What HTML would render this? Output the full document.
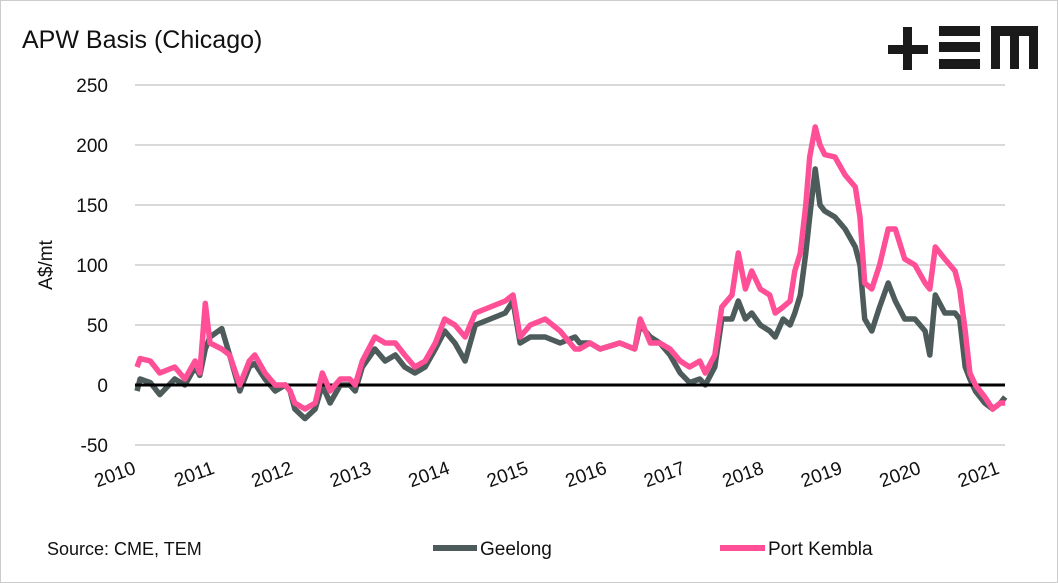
<!DOCTYPE html>
<html><head><meta charset="utf-8"><style>
body{margin:0;background:#fff;}
svg{font-family:"Liberation Sans",sans-serif;display:block}
</style></head><body>
<svg width="1058" height="583" viewBox="0 0 1058 583">
<rect x="0.5" y="0.5" width="1057" height="582" fill="#fff" stroke="#ccc"/>
<text x="22" y="48" font-size="25" fill="#111">APW Basis (Chicago)</text>
<g fill="#1a1a1a">
<rect x="888" y="45" width="40" height="9"/><rect x="903" y="27" width="9" height="43"/>
<rect x="939" y="26" width="41" height="10"/><rect x="939" y="42" width="41" height="10"/><rect x="939" y="59" width="41" height="10"/>
<path d="M991 26h47v43h-9v-33h-10v33h-9v-33h-10v33h-9z"/>
</g>
<g id="grid"></g>
<g id="yticks"></g>
<g id="xticks"></g>
<text transform="translate(52,265) rotate(-90)" text-anchor="middle" font-size="19" fill="#111">A$/mt</text>
<g id="series"></g>
<text x="47" y="555" font-size="18" fill="#111">Source: CME, TEM</text>
<g><line x1="433" y1="548" x2="477" y2="548" stroke="#4d5b5b" stroke-width="6"/><text x="480" y="555" font-size="19" fill="#111">Geelong</text></g>
<g><line x1="720" y1="548" x2="765" y2="548" stroke="#ff4f96" stroke-width="6"/><text x="768" y="555" font-size="19" fill="#111">Port Kembla</text></g>
</svg>
<script>
const dates=[2010.0,2010.04,2010.17,2010.29,2010.48,2010.61,2010.74,2010.80,2010.87,2010.93,2011.08,2011.18,2011.31,2011.43,2011.50,2011.63,2011.76,2011.89,2011.95,2012.01,2012.14,2012.27,2012.36,2012.46,2012.59,2012.71,2012.78,2012.87,2013.03,2013.16,2013.29,2013.41,2013.54,2013.67,2013.80,2013.92,2014.05,2014.18,2014.31,2014.50,2014.69,2014.79,2014.88,2015.01,2015.20,2015.39,2015.58,2015.64,2015.77,2015.90,2016.15,2016.34,2016.41,2016.54,2016.66,2016.79,2016.92,2017.04,2017.17,2017.24,2017.36,2017.45,2017.58,2017.66,2017.75,2017.83,2017.94,2018.06,2018.13,2018.23,2018.32,2018.38,2018.45,2018.52,2018.57,2018.64,2018.70,2018.76,2018.89,2019.02,2019.15,2019.21,2019.27,2019.36,2019.46,2019.57,2019.66,2019.78,2019.91,2020.04,2020.10,2020.17,2020.29,2020.42,2020.48,2020.55,2020.61,2020.68,2020.80,2020.90,2021.0,2021.06];
const geelong=[-5,5,2,-8,5,0,15,8,30,40,47,25,-5,15,18,5,-5,0,-5,-20,-28,-20,0,-15,0,0,-5,15,30,20,25,15,10,15,30,45,35,20,50,55,60,70,35,40,40,35,40,35,35,30,35,30,50,40,35,25,10,2,5,0,15,55,55,70,55,60,50,45,40,55,50,60,75,110,140,180,150,145,140,130,115,100,55,45,65,85,70,55,55,45,25,75,60,60,55,15,5,-5,-15,-20,-15,-10];
const portKembla=[15,22,20,10,15,5,20,10,68,35,30,25,0,20,25,10,0,0,-5,-15,-20,-15,10,-5,5,5,0,20,40,35,35,25,15,20,35,55,50,40,60,65,70,75,40,50,55,45,30,30,35,30,35,30,55,35,35,30,20,15,20,10,25,65,75,110,80,95,80,75,60,65,70,95,110,150,190,215,200,192,190,175,165,140,85,80,100,130,130,105,100,85,80,115,105,95,80,45,10,0,-10,-20,-15,-15];
const yTicks=[-50,0,50,100,150,200,250];
const yLabels=["-50","0","50","100","150","200","250"];
const xTicks=[2010,2011,2012,2013,2014,2015,2016,2017,2018,2019,2020,2021];
const xLabels=["2010","2011","2012","2013","2014","2015","2016","2017","2018","2019","2020","2021"];
const NS="http://www.w3.org/2000/svg";
const X0=137,XR=78.5,Y0=385,YK=1.2,L=135,R=1005;
const x=d=>X0+(d-2010)*XR, y=v=>Y0-v*YK;
const grid=document.getElementById('grid'),yt=document.getElementById('yticks'),xt=document.getElementById('xticks'),ser=document.getElementById('series');
yTicks.forEach((v,i)=>{
 if(v!==0){const l=document.createElementNS(NS,'line');
 
 
 l.setAttribute('x1',L);l.setAttribute('x2',R);l.setAttribute('y1',y(v));l.setAttribute('y2',y(v));l.setAttribute('stroke','#d9d9d9');l.setAttribute('stroke-width','2');grid.appendChild(l);}
 const t=document.createElementNS(NS,'text');
 
 
 t.setAttribute('x',108);t.setAttribute('y',y(v)+7);t.setAttribute('text-anchor','end');t.setAttribute('font-size','19');t.setAttribute('fill','#111');t.textContent=yLabels[i];yt.appendChild(t);
});
xTicks.forEach((d,i)=>{
 const t=document.createElementNS(NS,'text');
 
 
 t.setAttribute('transform',`translate(${x(d)},${473}) rotate(-20)`);t.setAttribute('text-anchor','end');t.setAttribute('font-size','19');t.setAttribute('fill','#111');t.textContent=xLabels[i];xt.appendChild(t);
});
function line(vals,color,name){
 const p=document.createElementNS(NS,'polyline');
 
 
 p.setAttribute('points',vals.map((v,i)=>x(dates[i]).toFixed(1)+','+y(v).toFixed(1)).join(' '));
 p.setAttribute('fill','none');p.setAttribute('stroke',color);p.setAttribute('stroke-width','5.5');p.setAttribute('stroke-linejoin','round');
 ser.appendChild(p);
}
line(geelong,'#4d5b5b','geelong-line');
const z=document.createElementNS(NS,'line');


z.setAttribute('x1',L);z.setAttribute('x2',R);z.setAttribute('y1',y(0));z.setAttribute('y2',y(0));z.setAttribute('stroke','#000');z.setAttribute('stroke-width','3');
ser.appendChild(z);
line(portKembla,'#ff4f96','port-kembla-line');
</script>
</body></html>
